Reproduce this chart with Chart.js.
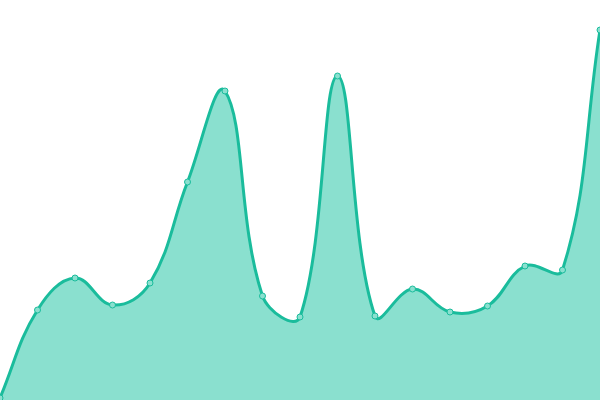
<!DOCTYPE html>
<html>
<head>
<meta charset="utf-8">
<script src="https://cdn.jsdelivr.net/npm/chart.js@4/dist/chart.umd.min.js"></script>
<style>
    html, body { margin: 0; padding: 0; background: #fff; }
    #wrap { width: 600px; height: 400px; }
</style>
</head>
<body>
<div id="wrap"><canvas id="areaChart"></canvas></div>
<script>
// Dados
const labels = ['1', '2', '3', '4', '5', '6', '7', '8', '9', '10', '11', '12', '13', '14', '15', '16', '17'];
const values = [2, 90, 122, 95, 117, 218, 309, 104, 83, 324, 84, 111, 88, 94, 134, 130, 370];
const yMin = 0;
const yMax = 400;

const lineColor = '#1abc9c';
const fillColor = '#8ae0cf';

const ctx = document.getElementById('areaChart').getContext('2d');
new Chart(ctx, {
    type: 'line',
    data: {
        labels: labels,
        datasets: [{
            data: values,
            borderColor: lineColor,
            borderWidth: 3,
            backgroundColor: fillColor,
            fill: true,
            tension: 0.4,
            pointRadius: 3,
            pointBorderWidth: 1,
            pointBackgroundColor: fillColor,
            pointBorderColor: lineColor,
        }],
    },
    options: {
        responsive: true,
        maintainAspectRatio: false,
        animation: false,
        layout: { padding: 0, autoPadding: false },
        plugins: {
            legend: { display: false },
            tooltip: { enabled: false },
        },
        scales: {
            x: { display: false, offset: false },
            y: { display: false, min: yMin, max: yMax },
        },
    },
});
</script>
</body>
</html>
